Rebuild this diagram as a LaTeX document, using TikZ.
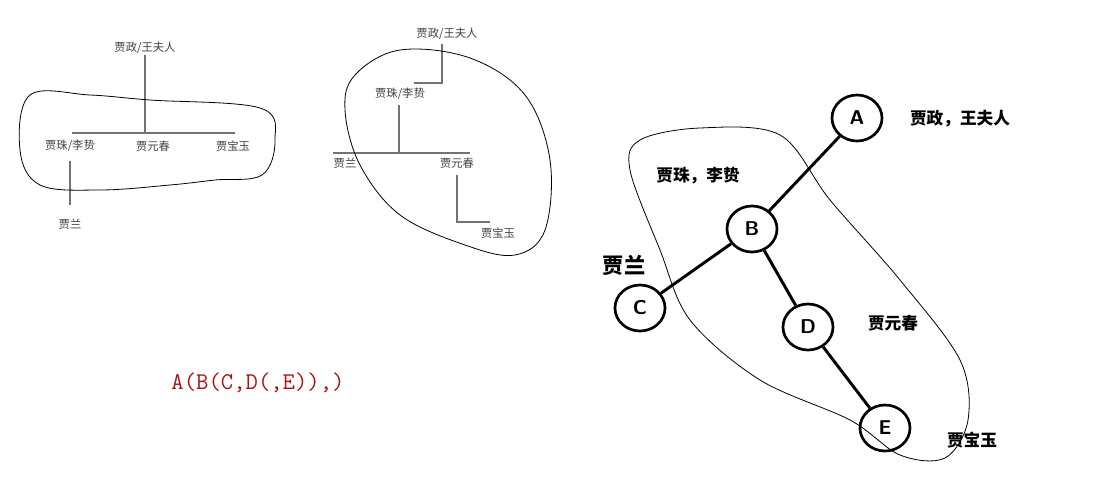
\documentclass[tikz,border=0pt]{standalone}
\usepackage{fontspec}
\newfontfamily\cjk{Noto Sans CJK SC}
\tikzset{
 sm/.style={font=\cjk\fontsize{8.5}{9}\selectfont, text=black!75, inner sep=1pt},
 bl/.style={font=\cjk\bfseries\fontsize{12.5}{14}\selectfont, inner sep=1pt},
 tl/.style={draw=black!55, line width=0.9pt},
 blob/.style={draw=black, line width=0.6pt},
 cir/.style={draw=black, line width=2pt, ellipse, minimum width=50pt*0.75/0.75*0.75, minimum height=46pt*0.75, inner sep=0pt, font=\sffamily\bfseries\fontsize{15}{16}\selectfont},
 ed/.style={line width=2.2pt},
}
\usetikzlibrary{shapes.geometric}
\begin{document}
\begin{tikzpicture}[x=0.75pt,y=-0.75pt]
\useasboundingbox (0,0) rectangle (1093,493);
% left tree
\node[sm] (l0) at (145,48) {贾政/王夫人};
\node[sm] (l1) at (70,146) {贾珠/李贽};
\node[sm] (l2) at (153,146) {贾元春};
\node[sm] (l3) at (233,146) {贾宝玉};
\node[sm] (l4) at (70,224) {贾兰};
\coordinate (lh1) at (72,133); \coordinate (lh2) at (235,133);
\draw[tl] (l0.south -| 145,0) -- (145,133);
\draw[tl] (lh1) -- (lh2);
\draw[tl] (l1.south) ++(0,8) -- (70,205);
\draw[blob] plot[smooth cycle, tension=0.6] coordinates {(30,95) (90,95) (150,100) (260,108) (275,140) (262,175) (215,180) (170,185) (100,190) (40,185) (20,150)};
% middle tree
\node[sm] (m0) at (447,34) {贾政/王夫人};
\node[sm] (m1) at (400,94) {贾珠/李贽};
\node[sm] (m2) at (345,163) {贾兰};
\node[sm] (m3) at (457,163) {贾元春};
\node[sm] (m4) at (498,233) {贾宝玉};
\draw[tl] (442,44) -- (442,83) -- (414,83);
\draw[tl] (399,105) -- (399,153);
\draw[tl] (333,153) -- (470,153);
\draw[tl] (457,175) -- (457,222) -- (490,222);
\draw[blob] plot[smooth cycle, tension=0.6] coordinates {(355,75) (400,50) (470,58) (525,95) (550,160) (545,230) (515,255) (465,245) (400,215) (360,165) (345,110)};
% code
\node[font=\ttfamily\fontsize{18}{20}\selectfont, text={rgb,255:red,170;green,20;blue,20}] (code) at (258,383) {A(B(C,D(,E)),)};
% right tree
\node[cir] (A) at (857,118) {A};
\node[cir] (B) at (752,229) {B};
\node[cir] (C) at (640,308) {C};
\node[cir] (D) at (808,327) {D};
\node[cir] (E) at (885,428) {E};
\draw[ed] (A) -- (B); \draw[ed] (B) -- (C); \draw[ed] (B) -- (D); \draw[ed] (D) -- (E);
\node[bl] (ta) at (960,119) {贾政，王夫人};
\node[bl] (tb) at (698,176) {贾珠，李贽};
\node[bl,font=\cjk\bfseries\fontsize{16}{17}\selectfont] (tc) at (624,265) {贾兰};
\node[bl] (td) at (893,323) {贾元春};
\node[bl] (te) at (972,440) {贾宝玉};
\draw[blob] plot[smooth cycle, tension=0.55] coordinates {(640,140) (700,128) (780,135) (830,200) (900,280) (960,360) (968,420) (945,458) (900,455) (850,420) (760,380) (690,320) (660,250) (630,170)};
\end{tikzpicture}
\end{document}
